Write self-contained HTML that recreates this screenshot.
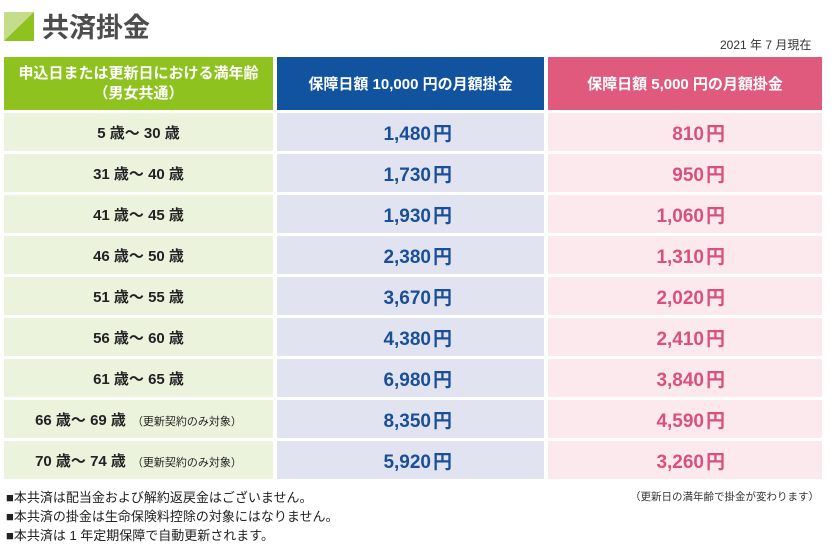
<!DOCTYPE html><html><head><meta charset="utf-8"><style>
body{margin:0;width:837px;height:555px;background:#fff;font-family:"Liberation Sans","Noto Sans CJK JP",sans-serif;position:relative;overflow:hidden}
.t{position:absolute;white-space:nowrap}
.c{position:absolute;display:flex;align-items:center;justify-content:center;font-weight:bold}
.r{justify-content:flex-end}
</style></head><body>
<svg class="t" style="left:4px;top:12px" width="30" height="29"><rect width="30" height="29" fill="#c3dd8a"/><polygon points="30,0 30,29 0,29" fill="#8dc21f"/></svg>
<div class="t" style="left:42px;top:6px;font-size:27px;font-weight:bold;color:#4d4d4d">共済掛金</div>
<div class="t" style="left:720px;top:36px;font-size:12px;color:#333">2021 年 7 月現在</div>
<div class="c" style="left:4px;top:57px;width:269px;height:53px;background:#8dc21f;color:#fff;font-size:15px;flex-direction:column;line-height:20px">申込日または更新日における満年齢<span>（男女共通）</span></div>
<div class="c" style="left:277px;top:57px;width:267px;height:53px;background:#11539e;color:#fff;font-size:15px">保障日額 10,000 円の月額掛金</div>
<div class="c" style="left:548px;top:57px;width:274px;height:53px;background:#e05a7e;color:#fff;font-size:15px">保障日額 5,000 円の月額掛金</div>
<div id="rows"></div>
<div class="t" style="left:6px;top:488px;font-size:13px;color:#222;line-height:19px">■本共済は配当金および解約返戻金はございません。<br>■本共済の掛金は生命保険料控除の対象にはなりません。<br>■本共済は 1 年定期保障で自動更新されます。</div>
<div class="t" style="left:630px;top:489px;font-size:10.5px;color:#333">（更新日の満年齢で掛金が変わります）</div>
<script>
var d=[["5 歳～ 30 歳","1,480","810"],["31 歳～ 40 歳","1,730","950"],["41 歳～ 45 歳","1,930","1,060"],["46 歳～ 50 歳","2,380","1,310"],["51 歳～ 55 歳","3,670","2,020"],["56 歳～ 60 歳","4,380","2,410"],["61 歳～ 65 歳","6,980","3,840"],["66 歳～ 69 歳","8,350","4,590",1],["70 歳～ 74 歳","5,920","3,260",1]];
var h="";d.forEach(function(r,i){var y=113+i*41;
h+='<div class="c" style="left:4px;top:'+y+'px;width:269px;height:38px;background:#ebf3dc;color:#222;font-size:15px"><span>'+r[0]+(r[3]?'<span style="font-size:11px;font-weight:normal;margin-left:6px">（更新契約のみ対象）</span>':'')+'</span></div>';
h+='<div class="c r" style="left:277px;top:'+y+'px;width:175px;padding-right:92px;height:38px;background:#e1e4f0;color:#1a4f97;font-size:19px"><span>'+r[1]+'<span style="margin-left:2px">円</span></span></div>';
h+='<div class="c r" style="left:548px;top:'+y+'px;width:177px;padding-right:97px;height:38px;background:#fbe9ee;color:#d9517a;font-size:19px"><span>'+r[2]+'<span style="margin-left:2px">円</span></span></div>';});
document.getElementById("rows").innerHTML=h;
</script>
</body></html>
